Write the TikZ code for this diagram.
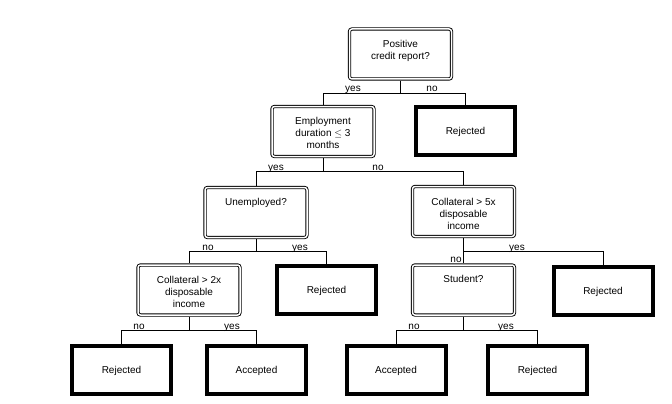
\documentclass[tikz,border=0pt]{standalone}
\usepackage{fontspec}
\setmainfont{Liberation Sans}
\begin{document}
\begin{tikzpicture}[x=1pt,y=-1pt,
  decision/.style={draw, double, line width=0.9pt, double distance=1.5pt,
    rounded corners=2.5pt, minimum width=102pt, minimum height=50pt,
    inner sep=0pt, outer sep=1.65pt},
  dtext/.style={anchor=north, inner sep=0pt, align=center,
    font=\fontsize{10}{12}\selectfont},
  leaf/.style={draw, line width=4pt, minimum width=99pt, minimum height=48pt,
    inner sep=0pt, text height=7.2pt, text depth=0pt,
    font=\fontsize{10}{12}\selectfont},
  branch/.style={anchor=base, inner sep=0pt, font=\fontsize{10}{12}\selectfont},
  link/.style={line width=0.8pt}]
\path[use as bounding box, fill=white] (0,0) rectangle (672,404);

% decision nodes (double frame, question text near the top)
\node[decision] (root)  at (400.5,54)  {};
\node[decision] (emp)   at (323,131.5) {};
\node[decision] (unemp) at (256,212.5) {};
\node[decision] (coll5) at (463.5,211.5) {};
\node[decision] (coll2) at (189,290)   {};
\node[decision] (stud)  at (463.5,290) {};

\node[dtext] (troot)  at ([yshift=-13pt]root.north)  {Positive\\credit report?};
\node[dtext] (temp)   at ([yshift=-12pt]emp.north)   {Employment\\duration $\leq$ 3\\months};
\node[dtext] (tunemp) at ([yshift=-12pt]unemp.north) {Unemployed?};
\node[dtext] (tcoll5) at ([yshift=-13pt]coll5.north) {Collateral {>} 5x\\disposable\\income};
\node[dtext] (tcoll2) at ([yshift=-12.5pt]coll2.north) {Collateral {>} 2x\\disposable\\income};
\node[dtext] (tstud)  at ([yshift=-12pt]stud.north)  {Student?};

% outcome nodes (heavy frame)
\node[leaf] (rej1) at (465.5,131)   {Rejected};
\node[leaf] (rej2) at (326.5,289.5) {Rejected};
\node[leaf] (rej3) at (603,290.5)   {Rejected};
\node[leaf] (rej4) at (121.5,370)   {Rejected};
\node[leaf] (acc1) at (256.5,370)   {Accepted};
\node[leaf] (acc2) at (396,370)     {Accepted};
\node[leaf] (rej5) at (537.5,370)   {Rejected};

% branch junctions
\coordinate (j1) at (400.5,93);
\coordinate (j2) at (323,171);
\coordinate (j3) at (256,251);
\coordinate (j4) at (463.5,251.5);
\coordinate (j5) at (189,330);
\coordinate (j6) at (463.5,330);

% connectors
\draw[link] (root.south) -- (j1) -| (emp.north);
\draw[link] (j1) -| (rej1.north);
\draw[link] (emp.south) -- (j2) -| (unemp.north);
\draw[link] (j2) -| (coll5.north);
\draw[link] (unemp.south) -- (j3) -| (coll2.north);
\draw[link] (j3) -| (rej2.north);
\draw[link] (coll5.south) -- (j4) -- (stud.north);
\draw[link] (j4) -| (rej3.north);
\draw[link] (coll2.south) -- (j5) -| (rej4.north);
\draw[link] (j5) -| (acc1.north);
\draw[link] (stud.south) -- (j6) -| (acc2.north);
\draw[link] (j6) -| (rej5.north);

% branch labels
\node[branch] (l1y) at (353,92)   {yes};
\node[branch] (l1n) at (432,92)   {no};
\node[branch] (l2y) at (276,170)  {yes};
\node[branch] (l2n) at (378,170)  {no};
\node[branch] (l3n) at (208,250)  {no};
\node[branch] (l3y) at (300,250)  {yes};
\node[branch] (l4y) at (517,250.5) {yes};
\node[branch] (l4n) at (456,262)  {no};
\node[branch] (l5n) at (139,329)  {no};
\node[branch] (l5y) at (232,329)  {yes};
\node[branch] (l6n) at (414,329)  {no};
\node[branch] (l6y) at (506,329)  {yes};
\end{tikzpicture}
\end{document}
